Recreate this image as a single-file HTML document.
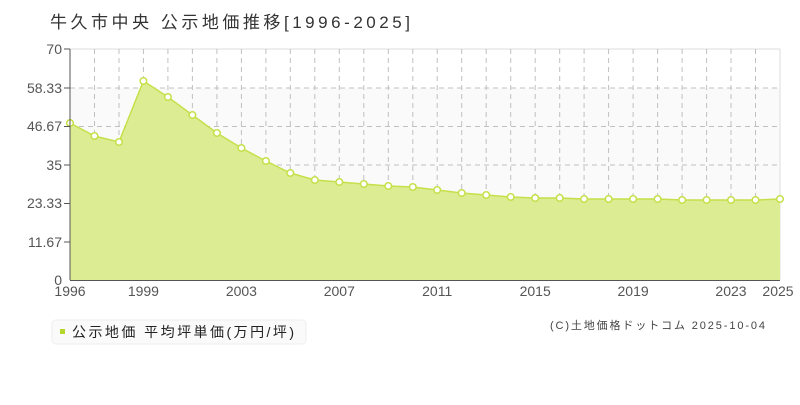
<!DOCTYPE html>
<html><head><meta charset="utf-8"><style>
body{margin:0;background:#fff;width:800px;height:400px;overflow:hidden;font-family:"Liberation Sans","Noto Sans CJK JP",sans-serif}
</style></head><body>
<svg width="800" height="400" xmlns="http://www.w3.org/2000/svg" font-family="'Liberation Sans','Noto Sans CJK JP',sans-serif">
<text x="50" y="28" font-size="17" fill="#333" textLength="360" lengthAdjust="spacing">牛久市中央 公示地価推移[1996-2025]</text>
<rect x="70" y="88" width="710" height="117" fill="#fafafa"/>
<g stroke="#c0c0c0" stroke-dasharray="5,4" stroke-width="1">
<line x1="70" y1="49" x2="780" y2="49" stroke-dasharray="none" stroke="#ddd"/>
<line x1="70" y1="88" x2="780" y2="88"/><line x1="70" y1="126.5" x2="780" y2="126.5"/><line x1="70" y1="165" x2="780" y2="165"/><line x1="70" y1="203.5" x2="780" y2="203.5"/><line x1="70" y1="242" x2="780" y2="242"/>
<line x1="94.5" y1="49" x2="94.5" y2="280"/><line x1="119" y1="49" x2="119" y2="280"/><line x1="143.4" y1="49" x2="143.4" y2="280"/><line x1="167.9" y1="49" x2="167.9" y2="280"/><line x1="192.4" y1="49" x2="192.4" y2="280"/><line x1="216.9" y1="49" x2="216.9" y2="280"/><line x1="241.4" y1="49" x2="241.4" y2="280"/><line x1="265.9" y1="49" x2="265.9" y2="280"/><line x1="290.3" y1="49" x2="290.3" y2="280"/><line x1="314.8" y1="49" x2="314.8" y2="280"/><line x1="339.3" y1="49" x2="339.3" y2="280"/><line x1="363.8" y1="49" x2="363.8" y2="280"/><line x1="388.3" y1="49" x2="388.3" y2="280"/><line x1="412.8" y1="49" x2="412.8" y2="280"/><line x1="437.2" y1="49" x2="437.2" y2="280"/><line x1="461.7" y1="49" x2="461.7" y2="280"/><line x1="486.2" y1="49" x2="486.2" y2="280"/><line x1="510.7" y1="49" x2="510.7" y2="280"/><line x1="535.2" y1="49" x2="535.2" y2="280"/><line x1="559.7" y1="49" x2="559.7" y2="280"/><line x1="584.1" y1="49" x2="584.1" y2="280"/><line x1="608.6" y1="49" x2="608.6" y2="280"/><line x1="633.1" y1="49" x2="633.1" y2="280"/><line x1="657.6" y1="49" x2="657.6" y2="280"/><line x1="682.1" y1="49" x2="682.1" y2="280"/><line x1="706.6" y1="49" x2="706.6" y2="280"/><line x1="731" y1="49" x2="731" y2="280"/><line x1="755.5" y1="49" x2="755.5" y2="280"/>
</g>
<line x1="780" y1="49" x2="780" y2="280" stroke="#ddd"/>
<polygon fill="#dbec93" points="70,280 70,123 94.5,136 119,142 143.4,81 167.9,97 192.4,115 216.9,133 241.4,148 265.9,161 290.3,173 314.8,180 339.3,182 363.8,184 388.3,186 412.8,187 437.2,190 461.7,193 486.2,195 510.7,197 535.2,198 559.7,198 584.1,199 608.6,199 633.1,199 657.6,199 682.1,200 706.6,200 731,200 755.5,200 780,199 780,280"/>
<polyline fill="none" stroke="#c5e04a" stroke-width="1.5" points="70,123 94.5,136 119,142 143.4,81 167.9,97 192.4,115 216.9,133 241.4,148 265.9,161 290.3,173 314.8,180 339.3,182 363.8,184 388.3,186 412.8,187 437.2,190 461.7,193 486.2,195 510.7,197 535.2,198 559.7,198 584.1,199 608.6,199 633.1,199 657.6,199 682.1,200 706.6,200 731,200 755.5,200 780,199"/>
<g fill="#fff" stroke="#c5e04a" stroke-width="1.5">
<circle cx="70" cy="123" r="3.3"/><circle cx="94.5" cy="136" r="3.3"/><circle cx="119" cy="142" r="3.3"/><circle cx="143.4" cy="81" r="3.3"/><circle cx="167.9" cy="97" r="3.3"/><circle cx="192.4" cy="115" r="3.3"/><circle cx="216.9" cy="133" r="3.3"/><circle cx="241.4" cy="148" r="3.3"/><circle cx="265.9" cy="161" r="3.3"/><circle cx="290.3" cy="173" r="3.3"/><circle cx="314.8" cy="180" r="3.3"/><circle cx="339.3" cy="182" r="3.3"/><circle cx="363.8" cy="184" r="3.3"/><circle cx="388.3" cy="186" r="3.3"/><circle cx="412.8" cy="187" r="3.3"/><circle cx="437.2" cy="190" r="3.3"/><circle cx="461.7" cy="193" r="3.3"/><circle cx="486.2" cy="195" r="3.3"/><circle cx="510.7" cy="197" r="3.3"/><circle cx="535.2" cy="198" r="3.3"/><circle cx="559.7" cy="198" r="3.3"/><circle cx="584.1" cy="199" r="3.3"/><circle cx="608.6" cy="199" r="3.3"/><circle cx="633.1" cy="199" r="3.3"/><circle cx="657.6" cy="199" r="3.3"/><circle cx="682.1" cy="200" r="3.3"/><circle cx="706.6" cy="200" r="3.3"/><circle cx="731" cy="200" r="3.3"/><circle cx="755.5" cy="200" r="3.3"/><circle cx="780" cy="199" r="3.3"/>
</g>
<g stroke="#555" stroke-width="1">
<line x1="70" y1="49" x2="70" y2="280"/><line x1="70" y1="280.5" x2="780" y2="280.5"/>
<line x1="64" y1="49" x2="70" y2="49"/><line x1="64" y1="88" x2="70" y2="88"/><line x1="64" y1="126.5" x2="70" y2="126.5"/><line x1="64" y1="165" x2="70" y2="165"/><line x1="64" y1="203.5" x2="70" y2="203.5"/><line x1="64" y1="242" x2="70" y2="242"/>
</g>
<g font-size="14" fill="#555" text-anchor="end">
<text x="62" y="54">70</text><text x="62" y="93">58.33</text><text x="62" y="131">46.67</text><text x="62" y="170">35</text><text x="62" y="208">23.33</text><text x="62" y="247">11.67</text><text x="62" y="285">0</text>
</g>
<g font-size="14" fill="#555" text-anchor="middle">
<text x="70" y="296">1996</text><text x="143.4" y="296">1999</text><text x="241.4" y="296">2003</text><text x="339.3" y="296">2007</text><text x="437.2" y="296">2011</text><text x="535.2" y="296">2015</text><text x="633.1" y="296">2019</text><text x="731" y="296">2023</text><text x="778" y="296">2025</text>
</g>
<rect x="52" y="320" width="254" height="24" rx="4" fill="#fafafa" stroke="#eee"/>
<rect x="60" y="329" width="5" height="5" fill="#b5d62a"/>
<text x="72" y="337" font-size="14" fill="#222" textLength="222" lengthAdjust="spacing">公示地価 平均坪単価(万円/坪)</text>
<text x="550" y="329" font-size="11" fill="#444" textLength="215" lengthAdjust="spacing">(C)土地価格ドットコム 2025-10-04</text>
</svg>
</body></html>
